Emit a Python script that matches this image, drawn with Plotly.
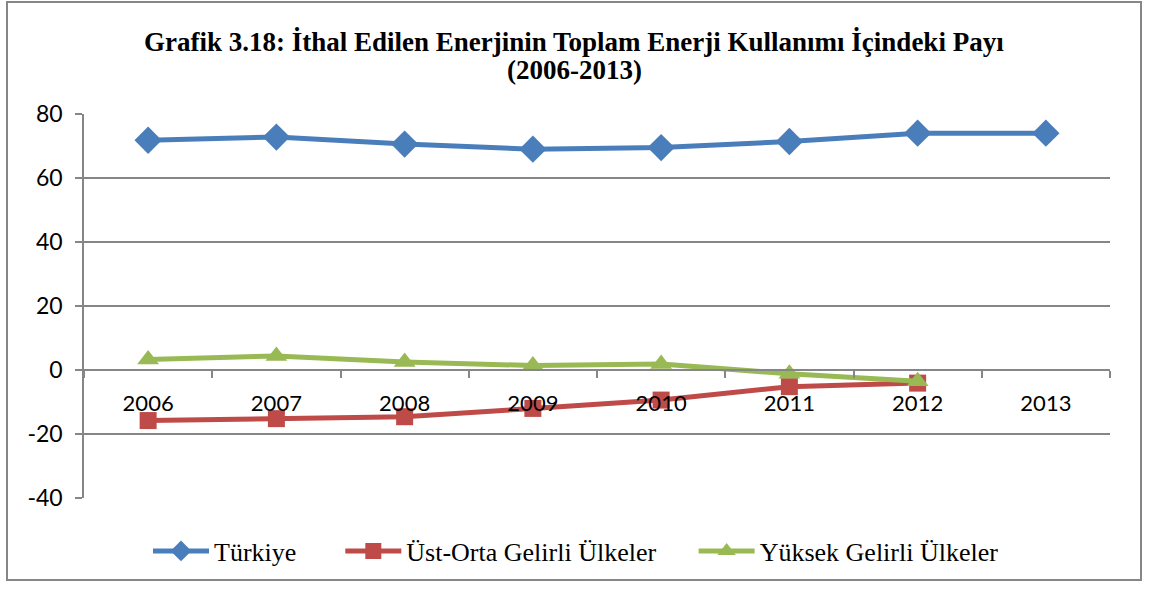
import plotly.graph_objects as go

years = ["2006", "2007", "2008", "2009", "2010", "2011", "2012", "2013"]
turkiye = [71.8, 72.8, 70.6, 69.0, 69.5, 71.4, 74.0, 74.0]
ust_orta = [-15.8, -15.2, -14.6, -12.0, -9.4, -5.2, -4.1, None]
yuksek = [3.3, 4.4, 2.5, 1.4, 1.9, -1.2, -3.5, None]
y_ticks = [-40, -20, 0, 20, 40, 60, 80]
y_tick_text = ["-40", "-20", "0", "20", "40", "60", "80"]
series_names = ["Türkiye", "Üst-Orta Gelirli Ülkeler", "Yüksek Gelirli Ülkeler"]

title_line1 = "Grafik 3.18: İthal Edilen Enerjinin Toplam Enerji Kullanımı İçindeki Payı"
title_line2 = "(2006-2013)"

NB = "\u00a0"
fig = go.Figure()
fig.add_trace(go.Scatter(x=years, y=turkiye, name=series_names[0] + NB * 6, mode="lines+markers",
                         line=dict(color="#4A7EBB", width=5),
                         marker=dict(symbol="diamond", size=21, color="#4A7EBB")))
fig.add_trace(go.Scatter(x=years, y=ust_orta, name=series_names[1] + NB * 5, mode="lines+markers",
                         line=dict(color="#BE4B48", width=5),
                         marker=dict(symbol="square", size=17, color="#BE4B48")))
fig.add_trace(go.Scatter(x=years, y=yuksek, name=series_names[2], mode="lines+markers",
                         line=dict(color="#98B954", width=5),
                         marker=dict(symbol="triangle-up", size=19, color="#98B954")))

L, R, T, B = 84, 39, 114, 94
W, H = 1149, 592
pw, ph = W - L - R, H - T - B

def px_to_paper_x(px):
    return (px - L) / pw

def px_to_paper_y(py):
    return (H - B - py) / ph

title_font = dict(family="Liberation Serif", size=27, color="black")

fig.update_layout(
    width=W, height=H,
    margin=dict(l=L, r=R, t=T, b=B),
    paper_bgcolor="white", plot_bgcolor="white",
    showlegend=True,
    legend=dict(orientation="h", x=px_to_paper_x(576), xanchor="center", y=px_to_paper_y(551), yanchor="middle",
                font=dict(family="Liberation Serif", size=26, color="black"),
                itemwidth=56, tracegroupgap=0),
    xaxis=dict(type="category", anchor="free", position=(0 - (-40)) / 120,
               showline=True, linecolor="#868686", linewidth=1.5,
               ticks="outside", tickson="boundaries", ticklen=7, tickcolor="#868686", tickwidth=1.5,
               showgrid=False, tickfont=dict(family="Lato", size=22, color="black"),
               ticklabelstandoff=14, range=[-0.5, 7.5]),
    yaxis=dict(range=[-40, 80], tickvals=y_ticks, ticktext=y_tick_text,
               showgrid=True, gridcolor="#868686", gridwidth=1.5,
               zeroline=False, showline=True, linecolor="#868686", linewidth=1.5,
               ticks="outside", ticklen=7, tickcolor="#868686", tickwidth=1.5,
               tickfont=dict(family="Lato", size=23, color="black"), ticklabelstandoff=8),
    annotations=[
        dict(text="<b>" + title_line1 + "</b>", xref="paper", yref="paper",
             x=px_to_paper_x(574), y=px_to_paper_y(42), xanchor="center", yanchor="middle",
             showarrow=False, font=title_font),
        dict(text="<b>" + title_line2 + "</b>", xref="paper", yref="paper",
             x=px_to_paper_x(574), y=px_to_paper_y(70), xanchor="center", yanchor="middle",
             showarrow=False, font=title_font),
    ],
    shapes=[dict(type="rect", xref="paper", yref="paper",
                 x0=px_to_paper_x(7), x1=px_to_paper_x(1141),
                 y0=px_to_paper_y(580), y1=px_to_paper_y(2),
                 line=dict(color="#868686", width=2), layer="below")],
)

fig.write_html("out.html", config={"displayModeBar": False},
               post_script="document.body.style.margin='0';document.body.style.padding='0';")
